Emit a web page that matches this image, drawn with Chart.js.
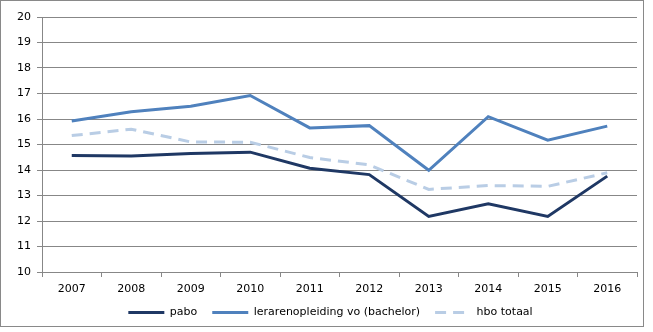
<!DOCTYPE html>
<html>
<head>
<meta charset="utf-8">
<script src="https://cdn.jsdelivr.net/npm/chart.js@4.4.1/dist/chart.umd.min.js"></script>
<style>
  body { margin: 0; background: #fff; }
  #kader { position: absolute; left: 0; top: 0; width: 644px; height: 327px; border: 1px solid #898989; box-sizing: border-box; }
  #grafiek { position: absolute; left: 1px; top: 1px; }
</style>
</head>
<body>
<div id="kader"><canvas id="grafiek" width="642" height="325"></canvas></div>
<script>
// jaren op de x-as
const jaren = ['2007', '2008', '2009', '2010', '2011', '2012', '2013', '2014', '2015', '2016'];

// waarden
const pabo = [14.57, 14.55, 14.65, 14.70, 14.07, 13.82, 12.18, 12.68, 12.18, 13.76];
const lerarenopleiding = [15.92, 16.28, 16.50, 16.92, 15.65, 15.74, 13.99, 16.09, 15.17, 15.72];
const hboTotaal = [15.35, 15.60, 15.10, 15.09, 14.49, 14.20, 13.24, 13.39, 13.36, 13.89];

const labels = ['pabo', 'lerarenopleiding vo (bachelor)', 'hbo totaal'];

const grijs = '#878787';
const ctx = document.getElementById('grafiek').getContext('2d');

// legenda vaste hoogte en iets naar rechts, zoals in Excel
const legendaPlugin = {
    id: 'legendaMaat',
    beforeInit(chart) {
        const legenda = chart.legend;
        if (!legenda) return;
        const origFit = legenda.fit.bind(legenda);
        legenda.fit = function () {
            origFit();
            this.height = 35;
        };
    },
    afterLayout(chart) {
        if (chart.legend) {
            chart.legend.left += 11;
            chart.legend.right += 11;
        }
    }
};

window.grafiek = new Chart(ctx, {
    type: 'line',
    data: {
        labels: jaren,
        datasets: [
            {
                label: labels[0],
                data: pabo,
                borderColor: '#1F3864',
                backgroundColor: '#1F3864',
                borderWidth: 3,
                pointRadius: 0,
                tension: 0
            },
            {
                label: labels[1],
                data: lerarenopleiding,
                borderColor: '#4F81BD',
                backgroundColor: '#4F81BD',
                borderWidth: 3,
                pointRadius: 0,
                tension: 0
            },
            {
                label: labels[2],
                data: hboTotaal,
                borderColor: '#B9CDE5',
                backgroundColor: '#B9CDE5',
                borderWidth: 3,
                borderDash: [11, 7],
                pointRadius: 0,
                tension: 0
            }
        ]
    },
    plugins: [legendaPlugin],
    options: {
        responsive: false,
        animation: false,
        layout: {
            padding: { left: 0, right: 7, top: 15, bottom: 0 }
        },
        scales: {
            x: {
                offset: true,
                afterFit: (scale) => { scale.height = 20; },
                grid: {
                    offset: true,
                    drawOnChartArea: false,
                    color: grijs,
                    tickLength: 5
                },
                border: { color: grijs, width: 1 },
                ticks: {
                    color: '#000',
                    padding: 6,
                    maxRotation: 0,
                    font: { family: 'DejaVu Sans', size: 11 }
                }
            },
            y: {
                min: 10,
                max: 20,
                afterFit: (scale) => { scale.width = 40; },
                grid: {
                    color: grijs,
                    tickLength: 5
                },
                border: { color: grijs, width: 1 },
                ticks: {
                    stepSize: 1,
                    color: '#000',
                    padding: 6,
                    font: { family: 'DejaVu Sans', size: 11 }
                }
            }
        },
        plugins: {
            legend: {
                position: 'bottom',
                labels: {
                    usePointStyle: true,
                    pointStyle: 'line',
                    pointStyleWidth: 36,
                    color: '#000',
                    padding: 15,
                    font: { family: 'DejaVu Sans', size: 11 },
                    generateLabels: (chart) => {
                        const items = Chart.defaults.plugins.legend.labels.generateLabels(chart);
                        items.forEach(item => {
                            const ds = chart.data.datasets[item.datasetIndex];
                            item.lineDash = ds.borderDash || [];
                            item.lineWidth = 3;
                            item.strokeStyle = ds.borderColor;
                        });
                        return items;
                    }
                }
            },
            tooltip: { enabled: false }
        }
    }
});
</script>
</body>
</html>
